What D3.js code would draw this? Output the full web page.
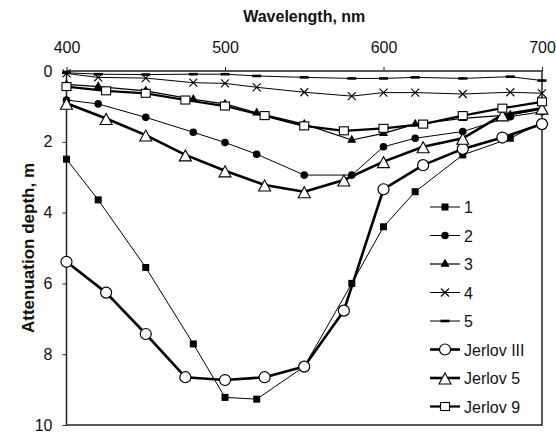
<!DOCTYPE html>
<html>
<head>
<meta charset="utf-8">
<script src="https://cdn.jsdelivr.net/npm/d3@7"></script>
<style>
  body { margin: 0; background: #fff; }
  text { font-family: "Liberation Sans", Arial, sans-serif; fill: #111; }
</style>
</head>
<body>
<svg id="chart" width="556" height="437"></svg>
<script>
var svg = d3.select("#chart");

// wavelengths
var wlMeasured = [400, 420, 450, 480, 500, 520, 550, 580, 600, 620, 650, 680, 700];
var wlJerlov = [400, 425, 450, 475, 500, 525, 550, 575, 600, 625, 650, 675, 700];

// attenuation depth, m
var s1 = [2.49, 3.64, 5.55, 7.71, 9.22, 9.27, 8.35, 6.0, 4.40, 3.41, 2.37, 1.90, 1.45];
var s2 = [0.82, 0.93, 1.31, 1.73, 2.02, 2.35, 2.94, 2.94, 2.14, 1.90, 1.71, 1.29, 1.15];
var s3 = [0.38, 0.44, 0.56, 0.80, 0.93, 1.18, 1.50, 1.95, 1.76, 1.50, 1.34, 1.24, 1.08];
var s4 = [0.07, 0.18, 0.20, 0.33, 0.35, 0.46, 0.60, 0.71, 0.61, 0.61, 0.65, 0.60, 0.63];
var s5 = [0.05, 0.09, 0.10, 0.09, 0.09, 0.14, 0.18, 0.21, 0.21, 0.18, 0.21, 0.16, 0.27];
var jerlovIII = [5.39, 6.26, 7.43, 8.65, 8.73, 8.65, 8.35, 6.77, 3.34, 2.66, 2.20, 1.88, 1.50];
var jerlov5 = [0.91, 1.34, 1.81, 2.37, 2.82, 3.22, 3.41, 3.08, 2.56, 2.14, 1.90, 1.24, 1.05];
var jerlov9 = [0.44, 0.56, 0.63, 0.82, 0.99, 1.26, 1.55, 1.69, 1.62, 1.50, 1.26, 1.05, 0.87];

var xTicks = [400, 500, 600, 700];
var yTicks = [0, 2, 4, 6, 8, 10];

var series = [
  {name: "1", x: wlMeasured, y: s1, marker: "square", width: 1},
  {name: "2", x: wlMeasured, y: s2, marker: "circle", width: 1},
  {name: "3", x: wlMeasured, y: s3, marker: "triangle", width: 1.2},
  {name: "4", x: wlMeasured, y: s4, marker: "times", width: 1},
  {name: "5", x: wlMeasured, y: s5, marker: "dash", width: 1},
  {name: "Jerlov III", x: wlJerlov, y: jerlovIII, marker: "ocircle", width: 2.6},
  {name: "Jerlov 5", x: wlJerlov, y: jerlov5, marker: "otriangle", width: 2.6},
  {name: "Jerlov 9", x: wlJerlov, y: jerlov9, marker: "osquare", width: 2.2}
];

var plotLeft = 66.5, plotRight = 542, plotTop = 71, plotBottom = 425;

var x = d3.scaleLinear().domain([400, 700]).range([plotLeft, plotRight]);
var y = d3.scaleLinear().domain([0, 10]).range([plotTop, plotBottom]);

// axes
var xAxis = svg.append("g")
  .attr("transform", "translate(0," + plotTop + ")")
  .call(d3.axisTop(x).tickValues(xTicks).tickSize(4).tickSizeOuter(0).tickPadding(14));
xAxis.select(".domain").remove();
xAxis.selectAll("text").style("font-size", "16px");

var yAxis = svg.append("g")
  .attr("transform", "translate(" + plotLeft + ",0)")
  .call(d3.axisLeft(y).tickValues(yTicks).tickSize(4).tickSizeOuter(0).tickPadding(10));
yAxis.select(".domain").remove();
yAxis.selectAll("text").style("font-size", "16px");
svg.selectAll(".tick line").attr("stroke", "#222");

// frame
svg.append("rect")
  .attr("x", plotLeft).attr("y", plotTop)
  .attr("width", plotRight - plotLeft).attr("height", plotBottom - plotTop)
  .attr("fill", "none").attr("stroke", "#222").attr("stroke-width", 1.5);

// titles
svg.append("text")
  .attr("x", (plotLeft + plotRight) / 2).attr("y", 22)
  .attr("text-anchor", "middle")
  .style("font-size", "16px").style("font-weight", "bold")
  .text("Wavelength, nm");

svg.append("text")
  .attr("transform", "translate(34," + ((plotTop + plotBottom) / 2) + ") rotate(-90)")
  .attr("text-anchor", "middle")
  .style("font-size", "17px").style("font-weight", "bold")
  .text("Attenuation depth, m");

// markers
function drawMarker(g, type, cx, cy) {
  if (type === "square") {
    g.append("rect").attr("x", cx - 3.5).attr("y", cy - 3.5).attr("width", 7).attr("height", 7).attr("fill", "#000");
  } else if (type === "circle") {
    g.append("circle").attr("cx", cx).attr("cy", cy).attr("r", 3.8).attr("fill", "#000");
  } else if (type === "triangle") {
    g.append("path").attr("transform", "translate(" + cx + "," + cy + ")")
      .attr("d", d3.symbol(d3.symbolTriangle, 36)()).attr("fill", "#000");
  } else if (type === "times") {
    g.append("path").attr("transform", "translate(" + cx + "," + cy + ")")
      .attr("d", "M-4,-4L4,4M-4,4L4,-4").attr("stroke", "#000").attr("stroke-width", 1.1).attr("fill", "none");
  } else if (type === "dash") {
    g.append("rect").attr("x", cx - 4.5).attr("y", cy - 1.3).attr("width", 9).attr("height", 2.6).attr("fill", "#000");
  } else if (type === "ocircle") {
    g.append("circle").attr("cx", cx).attr("cy", cy).attr("r", 5.5)
      .attr("fill", "#fff").attr("stroke", "#000").attr("stroke-width", 1.2);
  } else if (type === "otriangle") {
    g.append("path").attr("transform", "translate(" + cx + "," + (cy + 1) + ")")
      .attr("d", "M0,-6L6,5L-6,5Z")
      .attr("fill", "#fff").attr("stroke", "#000").attr("stroke-width", 1.1);
  } else if (type === "osquare") {
    g.append("rect").attr("x", cx - 4.5).attr("y", cy - 4).attr("width", 9).attr("height", 8)
      .attr("fill", "#fff").attr("stroke", "#000").attr("stroke-width", 1.1);
  }
}

var line = d3.line();

series.forEach(function(s) {
  var pts = s.x.map(function(v, i) { return [x(v), y(s.y[i])]; });
  var g = svg.append("g");
  g.append("path")
    .attr("d", line(pts))
    .attr("fill", "none").attr("stroke", "#000")
    .attr("stroke-width", s.width).attr("stroke-linejoin", "round");
  pts.forEach(function(p) { drawMarker(g, s.marker, p[0], p[1]); });
});

// legend
var legend = svg.append("g");
series.forEach(function(s, i) {
  var ly = 207 + i * 28.5;
  legend.append("line")
    .attr("x1", 430).attr("x2", 460).attr("y1", ly).attr("y2", ly)
    .attr("stroke", "#000").attr("stroke-width", s.width);
  drawMarker(legend, s.marker, 445, ly);
  legend.append("text")
    .attr("x", 464).attr("y", ly + 6)
    .style("font-size", "16px")
    .text(s.name);
});
</script>
</body>
</html>
